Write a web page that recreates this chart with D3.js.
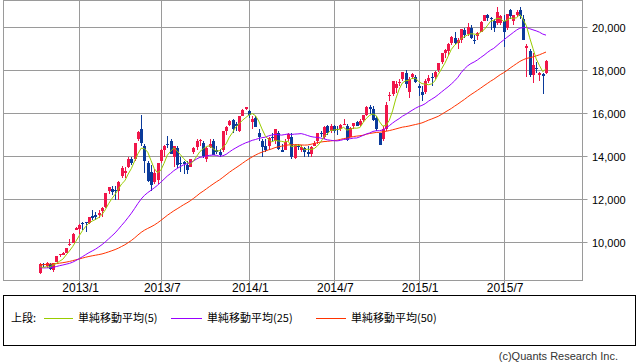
<!DOCTYPE html>
<html><head><meta charset="utf-8">
<script src="https://cdn.jsdelivr.net/npm/d3@7"></script>
<style>
html,body{margin:0;padding:0;background:#fff;}
svg{display:block;}
</style></head><body>
<svg id="c" width="638" height="362"></svg>
<script>
// ---- data ----
const firstWeek = "2012-10-15";
const lastWeek = "2015-10-05";
const opens = [8560,9010,8920,9010,8730,9090,9400,9430,9530,9900,
10000,10600,10650,10930,10950,10900,11250,11300,11300,11450,
11650,12400,12500,12420,12400,13100,13250,13500,13900,13900,
14800,15300,14500,13700,13300,12800,12900,13800,14300,14600,
14700,14000,14400,13700,13750,13600,13500,14200,14450,14700,
14650,13900,14450,14700,14300,14200,14300,15200,15450,15700,
15500,15200,15900,16200,16100,15600,15800,15100,14700,14500,
14500,14900,14700,15100,14300,14300,14800,14900,13950,14500,
14300,14400,14200,14100,14500,14700,15100,14900,15400,15200,
15400,15300,15300,15500,15400,14900,15400,15600,15450,15700,
15950,16300,16200,15800,15100,14800,15300,16800,16900,17200,
17400,17600,17900,17000,17700,17700,17300,17000,17000,17500,
17700,17700,18000,18400,18800,18900,19300,19500,19300,19400,
19900,19700,20000,19400,19600,19800,20300,20600,20450,20300,
20200,20200,20300,20000,20800,20300,20600,20800,20400,19050,
18900,17800,18100,17800,17820,17900];
const highs = [9030,9060,9070,9060,9060,9390,9480,9560,9760,10160,
10430,10734,10880,10950,10970,11200,11500,11400,11500,11650,
12300,12560,12650,12650,12850,13550,13500,13990,14000,14650,
15200,15942,14600,13800,13600,13400,13700,14350,14550,14950,
14800,14500,14500,14000,13800,13800,13900,14450,14800,14800,
14700,14450,14800,14800,14500,14350,15200,15400,15700,15750,
15600,15900,16200,16320,16150,15900,15900,15300,14800,14800,
14900,15100,15300,15200,14600,14800,15100,15100,14550,14600,
14550,14450,14500,14500,14700,15100,15200,15400,15450,15500,
15450,15400,15500,15750,15500,15350,15550,15650,15750,15950,
16350,16400,16350,15900,15100,15400,16550,17000,17530,17500,
17600,17950,18030,17700,17900,17800,17350,17300,17600,17800,
17900,17980,18350,18830,19000,19300,19600,19780,19500,19950,
20000,20200,20100,19650,19800,20300,20600,20650,20500,20400,
20952,20600,20600,20650,20850,20600,20800,20946,20600,19250,
19000,18800,18400,17950,17900,18500];
const lows = [8540,8880,8830,8740,8620,9080,9340,9400,9500,9820,
9990,10600,10400,10600,10480,10850,11050,11050,11150,11200,
11600,12250,12200,12000,12000,13000,13000,13450,13600,13800,
14700,14480,13250,12800,12400,12700,12700,13700,14000,14400,
14100,13500,13450,13300,13200,13200,13500,14100,14300,14500,
13950,13750,14400,14050,14100,14000,14200,15000,15400,15100,
15200,15150,15900,16150,15800,15300,15350,14700,14000,14200,
14300,14700,14600,14300,14200,14300,14700,13900,13900,14300,
14200,14000,14000,14000,14500,14600,14900,14800,15000,15100,
15100,15000,15200,15450,14700,14900,15300,15400,15400,15600,
15900,16000,15650,15200,14529,14700,15200,16600,16800,16950,
17300,17500,17200,16700,17600,17400,16800,16600,16900,17400,
17300,17600,17950,18300,18600,18700,19200,19200,19000,19300,
19500,19600,19450,19250,19400,19800,20300,20300,19900,19800,
20100,20100,19115,19900,20400,20100,20500,20400,19400,17714,
17700,17400,17900,17500,16901,17850];
const closes = [9002,8933,9051,8757,9024,9366,9446,9527,9737,9940,
10395,10688,10801,10913,10926,11191,11153,11173,11385,11606,
12283,12560,12338,12397,12833,13485,13316,13884,13694,14607,
15138,14612,13774,12877,12686,13230,13677,14310,14506,14589,
14130,14467,13615,13650,13660,13389,13861,14405,14742,14760,
14024,14404,14561,14088,14201,14086,15165,15381,15662,15299,
15403,15870,16178,16291,15912,15734,15391,14914,14462,14313,
14865,14841,15274,14327,14224,14696,15063,13960,14516,14429,
14458,14199,14097,14462,14632,15077,15097,15349,15095,15437,
15164,15215,15457,15523,14778,15318,15539,15425,15669,15948,
16321,16229,15709,15300,14533,15291,16413,16881,17490,17358,
17460,17921,17371,17621,17818,17451,17198,16864,17512,17674,
17648,17913,18332,18798,18971,19254,19560,19286,19435,19908,
19653,20020,19520,19379,19733,20264,20563,20461,20407,19990,
20706,20539,19780,20650,20544,20585,20724,20519,19436,19136,
17792,18264,18070,17881,17725,18438];
// weekly closes before the first shown week (for the moving averages)
const priorCloses = [8514,8374,8160,8643,8537,8402,8396,8455,8390,8500,
8766,8841,8831,8948,9384,9647,9777,9930,10130,10011,
10084,9688,9638,9562,9521,9380,8953,8612,8580,8440,
8460,8721,8799,9007,9021,8725,8670,8567,8556,8891,
9163,9071,8840,8872,9160,9111,8870,8864,8534];
const yTicks = [10000,12000,14000,16000,18000,20000];
const xTickDates = ["2013-01-07","2013-07-01","2014-01-06","2014-07-07","2015-01-05","2015-07-06"];
const xTickLabels = ["2013/1","2013/7","2014/1","2014/7","2015/1","2015/7"];
const maPeriods = [5,25,50];
const maNames = ["単純移動平均(5)","単純移動平均(25)","単純移動平均(50)"];
const legendPrefix = "上段:";
const copyright = "(c)Quants Research Inc.";

// ---- style ----
const UP = "#f0164a", DOWN = "#0a3a9a";
const MA_COLORS = ["#99cc00","#9900ff","#ff3300"];
const GRID = "#9a9a9a";
const LATIN = "'Liberation Sans', Arial, sans-serif";
const CJK = "'Noto Sans CJK JP', 'Noto Sans', sans-serif";

const parse = d3.utcParse("%Y-%m-%d");
const weeks = d3.utcMonday.range(parse(firstWeek), d3.utcDay.offset(parse(lastWeek), 1));
const data = weeks.map((d, i) => ({date: d, o: opens[i], h: highs[i], l: lows[i], c: closes[i]}));
const all = priorCloses.concat(closes);
const P = priorCloses.length;
const mas = maPeriods.map(p => data.map((d, i) => ({date: d.date, v: d3.mean(all.slice(P + i - p + 1, P + i + 1))})));

const svg = d3.select("#c");
const L = 3.5, R = 582.5, T = 0.5, B = 280.5;
const x = d3.scaleUtc().domain([parse(firstWeek), parse(lastWeek)]).range([40, 546]);
const y = d3.scaleLinear().domain([10000, 20000]).range([242.5, 27.5]);

// grid
const g = svg.append("g");
g.selectAll("line.h").data(yTicks).join("line")
  .attr("x1", L).attr("x2", R + 5).attr("y1", d => y(d)).attr("y2", d => y(d))
  .attr("stroke", GRID).attr("stroke-width", 1);
g.selectAll("line.v").data(xTickDates).join("line")
  .attr("x1", d => Math.round(x(parse(d))) + 0.5).attr("x2", d => Math.round(x(parse(d))) + 0.5)
  .attr("y1", T).attr("y2", B + 3)
  .attr("stroke", GRID).attr("stroke-width", 1);
svg.append("rect").attr("x", L).attr("y", T).attr("width", R - L).attr("height", B - T)
  .attr("fill", "none").attr("stroke", GRID).attr("stroke-width", 1);

// candles
const cg = svg.append("g").attr("shape-rendering", "crispEdges");
data.forEach(d => {
  const cx = Math.round(x(d.date));
  const col = d.c >= d.o ? UP : DOWN;
  const yh = y(d.h), yl = y(d.l);
  cg.append("rect").attr("x", cx).attr("y", Math.round(yh)).attr("width", 1)
    .attr("height", Math.max(1, Math.round(yl) - Math.round(yh))).attr("fill", col);
  const top = Math.round(y(Math.max(d.o, d.c))), bot = Math.round(y(Math.min(d.o, d.c)));
  cg.append("rect").attr("x", cx - 1).attr("y", top).attr("width", 3)
    .attr("height", Math.max(1, bot - top)).attr("fill", col);
});

// moving averages
const line = d3.line().x(d => x(d.date)).y(d => y(d.v));
mas.slice().reverse().forEach((m, k) => {
  const idx = mas.length - 1 - k;
  svg.append("path").datum(m).attr("d", line).attr("fill", "none")
    .attr("stroke", MA_COLORS[idx]).attr("stroke-width", 1);
});

// axis labels
svg.selectAll("text.yl").data(yTicks).join("text")
  .attr("x", 592).attr("y", d => y(d) + 4).text(d => d3.format(",")(d))
  .attr("font-family", LATIN).attr("font-size", 11).attr("fill", "#000");
svg.selectAll("text.xl").data(xTickDates).join("text")
  .attr("x", d => x(parse(d)) + 1.5).attr("y", 292).attr("text-anchor", "middle")
  .text((d, i) => xTickLabels[i])
  .attr("font-family", LATIN).attr("font-size", 12).attr("fill", "#000");

// legend
svg.append("rect").attr("x", 3.5).attr("y", 295.5).attr("width", 632).attr("height", 50)
  .attr("fill", "none").attr("stroke", "#000").attr("stroke-width", 1);
svg.append("text").attr("x", 11).attr("y", 322).text(legendPrefix)
  .attr("font-family", CJK).attr("font-size", 11).attr("fill", "#000");
const legX = [[44, 73, 78], [171, 202, 207], [316, 346, 351]];
maNames.forEach((n, i) => {
  svg.append("line").attr("x1", legX[i][0]).attr("x2", legX[i][1]).attr("y1", 318.5).attr("y2", 318.5)
    .attr("stroke", MA_COLORS[i]).attr("stroke-width", 1);
  svg.append("text").attr("x", legX[i][2]).attr("y", 322).text(n)
    .attr("font-family", CJK).attr("font-size", 11).attr("fill", "#000");
});
svg.append("text").attr("x", 618).attr("y", 360).attr("text-anchor", "end").text(copyright)
  .attr("font-family", LATIN).attr("font-size", 11).attr("fill", "#333");
</script></body></html>
